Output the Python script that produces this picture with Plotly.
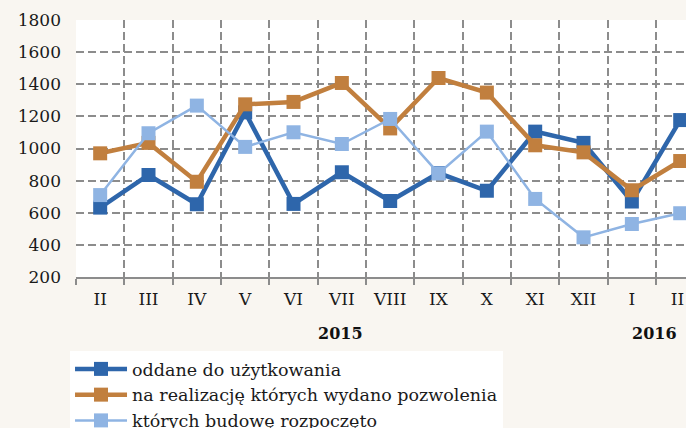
import plotly.graph_objects as go

months = ["II", "III", "IV", "V", "VI", "VII", "VIII", "IX", "X", "XI", "XII", "I", "II "]
oddane = [632, 835, 653, 1225, 655, 852, 673, 847, 737, 1105, 1035, 670, 1177]
pozwolenia = [970, 1035, 793, 1275, 1290, 1408, 1125, 1439, 1348, 1020, 976, 740, 922]
rozpoczete = [710, 1095, 1267, 1010, 1101, 1028, 1184, 845, 1105, 686, 447, 530, 597]
names = ["oddane do użytkowania",
         "na realizację których wydano pozwolenia",
         "których budowę rozpoczęto"]
years = ["2015", "2016"]

FONT = "DejaVu Serif"
fig = go.Figure()
styles = [("#2e66ab", 4.5), ("#c17f3e", 4.5), ("#8fb4e3", 2.5)]
for name, vals, (col, w) in zip(names, [oddane, pozwolenia, rozpoczete], styles):
    fig.add_trace(go.Scatter(
        x=months, y=vals, name=name, mode="lines+markers",
        line=dict(color=col, width=w),
        marker=dict(symbol="square", size=14, color=col),
        cliponaxis=False,
    ))

fig.update_layout(
    width=686, height=428,
    margin=dict(l=76, r=0, t=20, b=151, autoexpand=False),
    paper_bgcolor="#f9f6f1",
    plot_bgcolor="white",
    font=dict(family=FONT, size=17, color="#1a1a1a"),
    showlegend=True,
    legend=dict(
        x=-0.0098, y=-0.288, xanchor="left", yanchor="top",
        bgcolor="white", font=dict(family=FONT, size=17.5, color="#1a1a1a"),
        tracegroupgap=0, itemwidth=52,
    ),
)
fig.update_xaxes(
    type="category", tickson="boundaries", range=[-0.5, 12.12],
    automargin=False,
    showgrid=True, gridcolor="#8c8c8c", griddash="8px,4px", gridwidth=1.5,
    showline=True, linecolor="#8c8c8c", linewidth=2,
    ticks="outside", ticklen=6, tickcolor="#8c8c8c", tickwidth=1.5,
    ticklabelstandoff=6,
    tickfont=dict(family=FONT, size=17, color="#1a1a1a"),
)
fig.update_yaxes(
    range=[200, 1800], dtick=200, tick0=200, automargin=False,
    showgrid=True, gridcolor="#8c8c8c", griddash="8px,4px", gridwidth=1.5,
    showline=False, zeroline=False, ticks="", ticklabelstandoff=14,
    tickfont=dict(family=FONT, size=17, color="#1a1a1a"),
)
for txt, xp in zip(years, [0.4328, 0.949]):
    fig.add_annotation(text="<b>" + txt + "</b>", xref="paper", yref="paper",
                       x=xp, y=-0.2179, yanchor="middle", xanchor="center",
                       showarrow=False,
                       font=dict(size=16, family=FONT, color="#111111"))

fig.write_html(
    "out.html",
    config={"displayModeBar": False},
    post_script="document.body.style.margin='0';document.body.style.overflow='hidden';",
)
